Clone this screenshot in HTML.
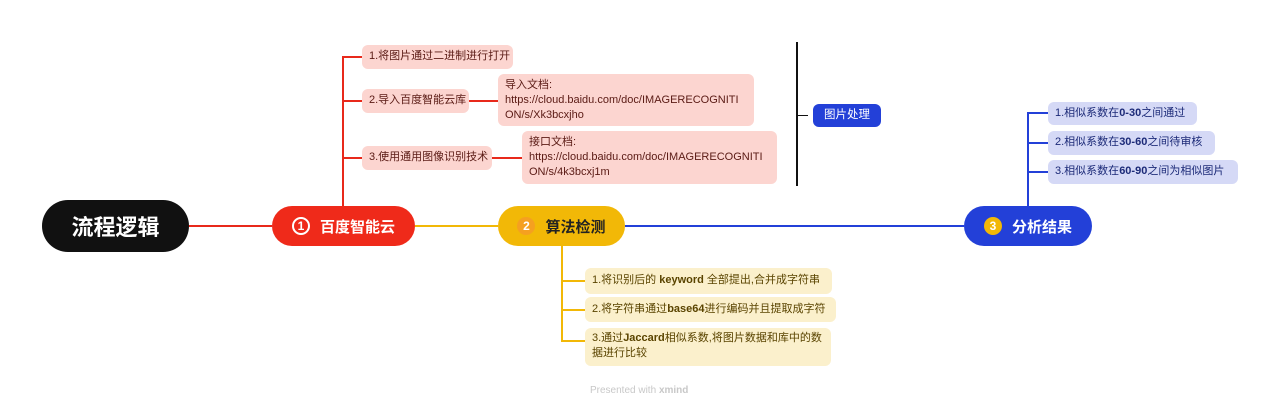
<!DOCTYPE html>
<html><head><meta charset="utf-8"><style>
body{margin:0;width:1280px;height:408px;background:#fff;position:relative;overflow:hidden;font-family:"Liberation Sans","Noto Sans CJK SC",sans-serif}
.a{position:absolute;box-sizing:border-box}
.l{position:absolute}
.n{position:absolute;box-sizing:border-box;border-radius:6px;font-size:11px;line-height:15px;padding:4px 7px;white-space:nowrap}
.r{background:#fcd5d0;color:#5a1a14}
.y{background:#fbf0cc;color:#5a4400}
.b{background:#d5d9f6;color:#1c2a78}
.m{position:absolute;box-sizing:border-box;border-radius:22px;display:flex;align-items:center;justify-content:center;font-weight:bold}
.c{display:inline-block;width:18px;height:18px;border-radius:50%;font-size:12px;line-height:18px;text-align:center;margin-right:10px}
</style></head><body>
<div class="l" style="left:189px;top:225px;width:83px;height:2px;background:#e8291b"></div>
<div class="l" style="left:415px;top:225px;width:83px;height:2px;background:#f2b807"></div>
<div class="l" style="left:625px;top:225px;width:339px;height:2px;background:#2340d8"></div>

<div class="m" style="left:42px;top:200px;width:147px;height:52px;border-radius:26px;background:#111;color:#fff;font-size:22px">流程逻辑</div>
<div class="m" style="left:272px;top:206px;width:143px;height:40px;background:#ef2a1a;color:#fff;font-size:15px"><span class="c" style="border:2px solid #fff;box-sizing:border-box;line-height:14px">1</span>百度智能云</div>
<div class="m" style="left:498px;top:206px;width:127px;height:40px;background:#f2b807;color:#222;font-size:15px"><span class="c" style="background:#f5a020;color:#fff">2</span>算法检测</div>
<div class="m" style="left:964px;top:206px;width:128px;height:40px;background:#2340d8;color:#fff;font-size:15px"><span class="c" style="background:#f2b807;color:#fff">3</span>分析结果</div>

<div class="l" style="left:342px;top:56px;width:2px;height:150px;background:#e8291b"></div>
<div class="l" style="left:342px;top:56px;width:20px;height:2px;background:#e8291b"></div>
<div class="l" style="left:342px;top:100px;width:20px;height:2px;background:#e8291b"></div>
<div class="l" style="left:342px;top:157px;width:20px;height:2px;background:#e8291b"></div>
<div class="l" style="left:469px;top:100px;width:29px;height:2px;background:#e8291b"></div>
<div class="l" style="left:492px;top:157px;width:30px;height:2px;background:#e8291b"></div>
<div class="n r" style="left:362px;top:45px;width:151px;height:24px">1.将图片通过二进制进行打开</div>
<div class="n r" style="left:362px;top:89px;width:107px;height:24px">2.导入百度智能云库</div>
<div class="n r" style="left:362px;top:146px;width:130px;height:24px">3.使用通用图像识别技术</div>
<div class="n r" style="left:498px;top:74px;width:256px;height:52px;line-height:15px;padding-top:4px">导入文档:<br>https://cloud.baidu.com/doc/IMAGERECOGNITI<br>ON/s/Xk3bcxjho</div>
<div class="n r" style="left:522px;top:131px;width:255px;height:53px;line-height:15px;padding-top:4px">接口文档:<br>https://cloud.baidu.com/doc/IMAGERECOGNITI<br>ON/s/4k3bcxj1m</div>

<div class="l" style="left:796px;top:42px;width:2px;height:144px;background:#111"></div>
<div class="l" style="left:796px;top:115px;width:12px;height:1px;background:#111"></div>
<div class="n" style="left:813px;top:104px;width:68px;height:23px;background:#2340d8;color:#fff;text-align:center;padding:4px 0;font-size:11.5px">图片处理</div>

<div class="l" style="left:561px;top:246px;width:2px;height:96px;background:#f2b807"></div>
<div class="l" style="left:561px;top:280px;width:24px;height:2px;background:#f2b807"></div>
<div class="l" style="left:561px;top:309px;width:24px;height:2px;background:#f2b807"></div>
<div class="l" style="left:561px;top:340px;width:24px;height:2px;background:#f2b807"></div>
<div class="n y" style="left:585px;top:268px;width:247px;height:26px;padding-top:5px">1.将识别后的 <b>keyword</b> 全部提出,合并成字符串</div>
<div class="n y" style="left:585px;top:297px;width:251px;height:25px;padding-top:5px">2.将字符串通过<b>base64</b>进行编码并且提取成字符</div>
<div class="n y" style="left:585px;top:328px;width:246px;height:38px;padding-top:3px">3.通过<b>Jaccard</b>相似系数,将图片数据和库中的数<br>据进行比较</div>

<div class="l" style="left:1027px;top:112px;width:2px;height:94px;background:#2340d8"></div>
<div class="l" style="left:1027px;top:112px;width:21px;height:2px;background:#2340d8"></div>
<div class="l" style="left:1027px;top:142px;width:21px;height:2px;background:#2340d8"></div>
<div class="l" style="left:1027px;top:171px;width:21px;height:2px;background:#2340d8"></div>
<div class="n b" style="left:1048px;top:102px;width:149px;height:23px">1.相似系数在<b>0-30</b>之间通过</div>
<div class="n b" style="left:1048px;top:131px;width:167px;height:24px">2.相似系数在<b>30-60</b>之间待审核</div>
<div class="n b" style="left:1048px;top:160px;width:190px;height:24px">3.相似系数在<b>60-90</b>之间为相似图片</div>

<div class="a" style="left:590px;top:385px;font-size:10px;color:#c8c8c8">Presented with <b>xmind</b></div>
</body></html>
